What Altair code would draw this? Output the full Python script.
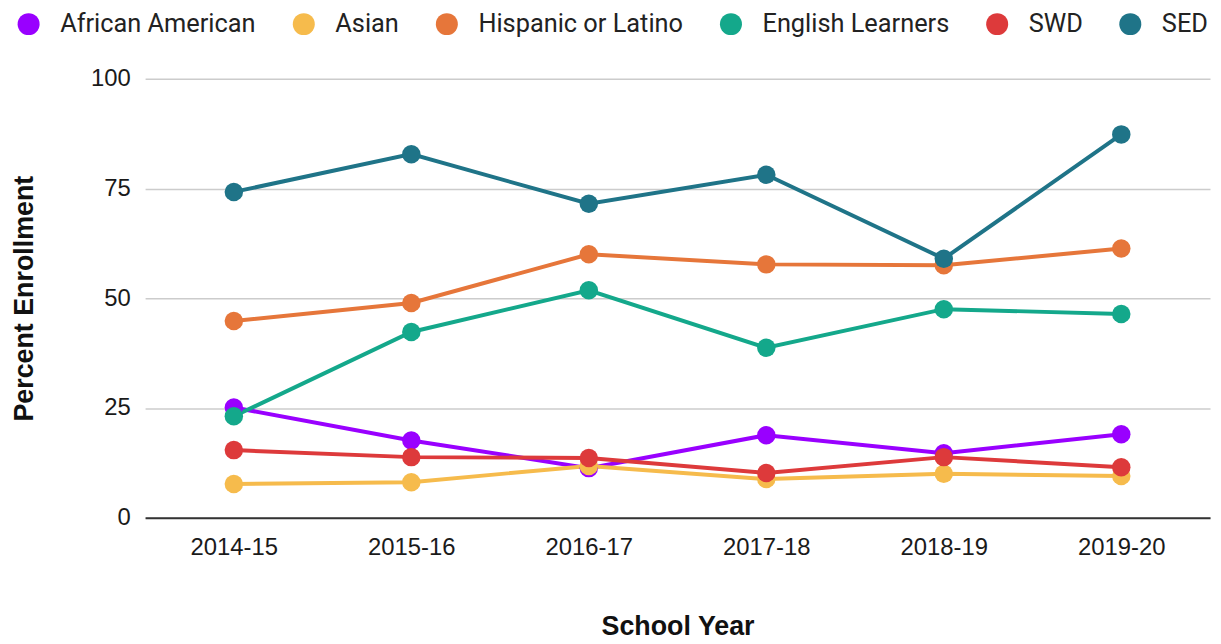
import altair as alt
import pandas as pd

years = ["2014-15", "2015-16", "2016-17", "2017-18", "2018-19", "2019-20"]
series_names = ["African American", "Asian", "Hispanic or Latino", "English Learners", "SWD", "SED"]
colors = ["#9900ff", "#f6bb4c", "#e6763a", "#14a88b", "#dd3a3b", "#1f7488"]

african_american = [25.1, 17.6, 11.3, 18.8, 14.7, 19.0]
asian = [7.7, 8.1, 11.8, 8.8, 10.0, 9.5]
hispanic = [44.8, 48.9, 60.0, 57.7, 57.5, 61.3]
english_learners = [23.1, 42.3, 51.8, 38.7, 47.5, 46.4]
swd = [15.4, 13.8, 13.6, 10.2, 13.8, 11.5]
sed = [74.2, 82.8, 71.5, 78.1, 59.0, 87.3]

values = [african_american, asian, hispanic, english_learners, swd, sed]

rows = []
for i, (name, vals) in enumerate(zip(series_names, values)):
    for y, v in zip(years, vals):
        rows.append({"Year": y, "Group": name, "Value": v, "order": i})
df = pd.DataFrame(rows)

x_enc = alt.X(
    "Year:O",
    sort=years,
    scale=alt.Scale(type="point", padding=0.5),
    axis=alt.Axis(
        title="School Year",
        labelAngle=0,
        labelFont="Liberation Sans",
        labelFontSize=24,
        labelColor="#1a1a1a",
        labelPadding=18,
        ticks=False,
        grid=False,
        domain=True,
        domainColor="#333333",
        domainWidth=2,
        titleFont="Liberation Sans",
        titleFontSize=27,
        titleFontWeight="bold",
        titleColor="#111111",
        titlePadding=55,
    ),
)
y_enc = alt.Y(
    "Value:Q",
    scale=alt.Scale(domain=[0, 100], nice=False),
    axis=alt.Axis(
        title="Percent Enrollment",
        values=[0, 25, 50, 75, 100],
        labelFont="Liberation Sans",
        labelFontSize=24,
        labelColor="#1a1a1a",
        labelPadding=15,
        ticks=False,
        domain=False,
        grid=True,
        gridColor="#cccccc",
        gridWidth=1.5,
        titleFont="Liberation Sans",
        titleFontSize=27,
        titleFontWeight="bold",
        titleColor="#111111",
        titlePadding=52,
    ),
)
color_enc = alt.Color(
    "Group:N",
    sort=series_names,
    scale=alt.Scale(domain=series_names, range=colors),
    legend=alt.Legend(
        title=None,
        orient="none",
        direction="horizontal",
        columns=6,
        legendX=-130,
        legendY=-68,
        padding=0,
        symbolType="circle",
        symbolSize=490,
        symbolStrokeWidth=0,
        symbolOpacity=1,
        labelFont="Roboto",
        labelFontSize=25.5,
        labelColor="#222222",
        labelOffset=19,
        columnPadding=35,
        labelLimit=400,
    ),
)

base = alt.Chart(df)
lines = base.mark_line(strokeWidth=4).encode(
    x=x_enc, y=y_enc, color=color_enc, order=alt.Order("order:Q")
)
points = base.mark_point(filled=True, opacity=1, size=346, shape="circle").encode(
    x=x_enc, y=y_enc, color=color_enc, order=alt.Order("order:Q")
)

chart = (
    alt.layer(lines, points)
    .properties(
        width=1072,
        height=442,
        autosize=alt.AutoSizeParams(type="none"),
        padding={"left": 138, "top": 69, "right": 3, "bottom": 125},
    )
    .configure_view(stroke=None)
)

chart.save("out.html", embed_options={"renderer": "svg", "actions": False})
